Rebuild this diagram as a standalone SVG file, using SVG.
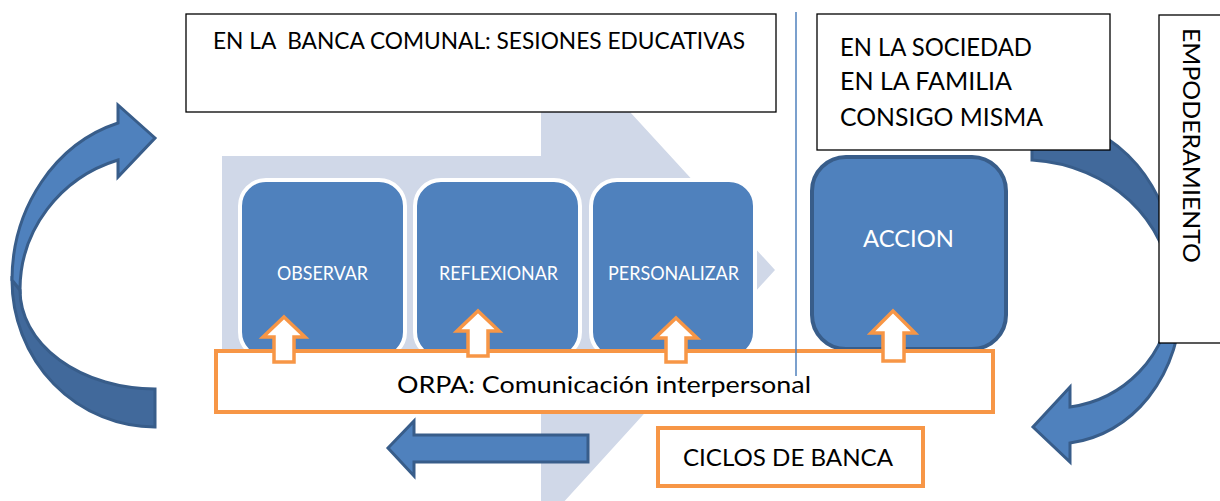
<svg xmlns="http://www.w3.org/2000/svg" width="1220" height="501" viewBox="0 0 1220 501">
<style>
.txt{font-family:Lato,"Liberation Sans",sans-serif;fill:#000}
.wtxt{font-family:Lato,"Liberation Sans",sans-serif;fill:#fff}
.tbox{fill:#fff;stroke:#000;stroke-width:1.3}
.obox{fill:#fff;stroke:#F79646;stroke-width:4}
.proc{fill:#4F81BD;stroke:#fff;stroke-width:4}
.bigarrow{stroke:#385D8A;stroke-width:3;stroke-linejoin:miter}
.light{fill:#4F81BD}
.dark{fill:#41699B}
.up{fill:#fff;stroke:#F79646;stroke-width:3.5;stroke-linejoin:miter}
</style>
<rect width="1220" height="501" fill="#fff"/>
<g id="background-chevron">
<path d="M222,156 L541,156 L541,15 L775,270 L541,527 L541,384 L222,384 Z" fill="#D0D8E8"/>
</g>
<g id="connectors">
<g id="left-cycle-arrow">
<path class="bigarrow dark" d="M12,280 A143,147 0 0 0 155,427 L155,389 A135,99 0 0 1 20,290 Z"/>
<path class="bigarrow light" d="M12,280 A148,164 0 0 1 118,123 L118,105 L155,138 L118,177 L118,160 A140,136 0 0 0 20,290 Z"/>
</g>
<g id="right-cycle-arrow-back">
<path class="bigarrow dark" d="M1032,118 C1100,118 1170,160 1182,290 L1172,290 C1168,220 1110,165 1032,160 Z"/>
</g>
</g>
<g id="node-observar">
<rect class="proc" x="240" y="180" width="165" height="178" rx="26"/>
<text class="wtxt" x="277" y="280" font-size="19" textLength="91" lengthAdjust="spacingAndGlyphs">OBSERVAR</text>
</g>
<g id="node-reflexionar">
<rect class="proc" x="415" y="180" width="165" height="178" rx="26"/>
<text class="wtxt" x="439" y="280" font-size="19" textLength="119" lengthAdjust="spacingAndGlyphs">REFLEXIONAR</text>
</g>
<g id="node-personalizar">
<rect class="proc" x="591" y="180" width="164" height="178" rx="26"/>
<text class="wtxt" x="608" y="280" font-size="19" textLength="131" lengthAdjust="spacingAndGlyphs">PERSONALIZAR</text>
</g>
<g id="node-accion">
<rect x="812" y="157" width="194" height="192" rx="34" fill="#4F81BD" stroke="#385D8A" stroke-width="4"/>
<text class="wtxt" x="863" y="247" font-size="24" textLength="91" lengthAdjust="spacingAndGlyphs">ACCION</text>
</g>
<g id="node-banca-comunal">
<rect class="tbox" x="186" y="14" width="590" height="98"/>
<text class="txt" x="213" y="49" font-size="23" xml:space="preserve" textLength="532" lengthAdjust="spacingAndGlyphs">EN LA  BANCA COMUNAL: SESIONES EDUCATIVAS</text>
</g>
<g id="node-sociedad">
<rect class="tbox" x="817" y="14" width="293" height="136"/>
<text class="txt" x="840" y="56" font-size="25" textLength="192" lengthAdjust="spacingAndGlyphs">EN LA SOCIEDAD</text>
<text class="txt" x="840" y="90" font-size="25" textLength="172" lengthAdjust="spacingAndGlyphs">EN LA FAMILIA</text>
<text class="txt" x="840" y="126" font-size="25" textLength="203" lengthAdjust="spacingAndGlyphs">CONSIGO MISMA</text>
</g>
<g id="right-cycle-arrow-front">
<path class="bigarrow light" d="M1182,290 C1182,380 1130,435 1070,443 L1070,462 L1033,427 L1070,387 L1070,407 C1120,400 1170,360 1172,290 Z"/>
</g>
<g id="node-empoderamiento">
<rect class="tbox" x="1159" y="15" width="80" height="328"/>
<text class="txt" transform="translate(1183,28) rotate(90)" x="0" y="0" font-size="24" textLength="235" lengthAdjust="spacingAndGlyphs">EMPODERAMIENTO</text>
</g>
<g id="node-orpa">
<rect class="obox" x="216" y="351" width="777" height="61"/>
<text class="txt" x="397" y="393" font-size="23" textLength="414" lengthAdjust="spacingAndGlyphs">ORPA: Comunicación interpersonal</text>
</g>
<g id="orpa-arrows">
<path class="up" d="M284,317 L305,337 L294,337 L294,362 L274,362 L274,337 L263,337 Z"/>
<path class="up" d="M478,311 L499,331 L488,331 L488,356 L468,356 L468,331 L457,331 Z"/>
<path class="up" d="M676,318 L697,338 L686,338 L686,362 L666,362 L666,338 L655,338 Z"/>
<path class="up" d="M893,311 L915,333 L904,333 L904,361 L883,361 L883,333 L871,333 Z"/>
</g>
<g id="separator">
<line x1="796" y1="12" x2="796" y2="376" stroke="#4F81BD" stroke-width="1.5"/>
</g>
<g id="cycle-back-arrow">
<path class="bigarrow light" d="M388,448 L414,421 L414,435 L588,435 L588,462 L414,462 L414,476 Z" stroke-width="4"/>
</g>
<g id="node-ciclos">
<rect class="obox" x="658" y="428" width="265" height="58"/>
<text class="txt" x="683" y="466" font-size="24" textLength="210" lengthAdjust="spacingAndGlyphs">CICLOS DE BANCA</text>
</g>
</svg>
